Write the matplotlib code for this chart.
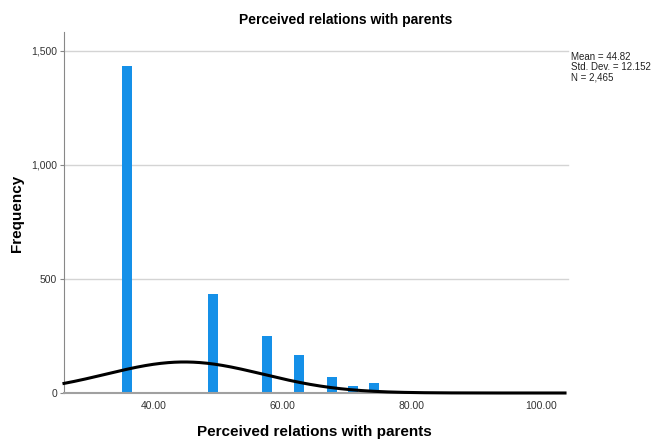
import numpy as np
import matplotlib.pyplot as plt

plt.rcParams['font.family'] = ['Liberation Sans', 'DejaVu Sans']

# --- data ---
bin_centers = [36.0, 37.7, 49.2, 52.5, 57.6, 62.6, 67.6, 70.9, 74.2, 79.3, 84.0, 94.0]
counts = [1434, 2, 434, 2, 251, 167, 71, 31, 45, 5, 3, 5]

mean_val = 44.82
std_val = 12.152
n_val = 2465
bin_width = 1.68

stats_lines = ["Mean = 44.82", "Std. Dev. = 12.152", "N = 2,465"]
y_ticks = [0, 500, 1000, 1500]
y_tick_labels = ["0", "500", "1,000", "1,500"]
x_ticks = [40, 60, 80, 100]
x_tick_labels = ["40.00", "60.00", "80.00", "100.00"]
title = "Perceived relations with parents"

fig = plt.figure(figsize=(6.53, 4.41), dpi=100)
ax = fig.add_axes([64 / 653, 1 - 393 / 441, (565 - 64) / 653, (393 - 32) / 441])

ax.bar(bin_centers, counts, width=1.55, color='#1590E8', zorder=2)

# normal curve from the reported statistics
xs = np.linspace(26.2, 103.7, 400)
ys = n_val * bin_width / (std_val * np.sqrt(2 * np.pi)) * np.exp(-0.5 * ((xs - mean_val) / std_val) ** 2)
ax.plot(xs, ys, color='black', linewidth=2.2, zorder=3, clip_on=False)

ax.set_xlim(26.2, 103.7)
ax.set_ylim(0, 1582)
ax.set_yticks(y_ticks)
ax.set_yticklabels(y_tick_labels)
ax.set_xticks(x_ticks)
ax.set_xticklabels(x_tick_labels)

for v in y_ticks[1:]:
    ax.axhline(v, color='#d4d4d4', linewidth=1, zorder=1, xmax=1.006, clip_on=False)

for side in ['top', 'right']:
    ax.spines[side].set_visible(False)
ax.spines['left'].set_color('#888888')
ax.spines['bottom'].set_color('#a0a0a0')
ax.spines['bottom'].set_linewidth(1.5)
ax.tick_params(axis='y', length=3, color='#888888', labelsize=7.5, labelcolor='#333333', pad=2)
ax.tick_params(axis='x', length=0, labelsize=7.5, labelcolor='#333333', pad=6)

ax.set_xlabel(title, fontsize=11, fontweight='bold', labelpad=10)
fig.text(17 / 653, 1 - 213 / 441, "Frequency", rotation=90, ha='center', va='center',
         fontsize=11, fontweight='bold')
fig.text(346 / 653, 1 - 20 / 441, title, ha='center', va='center', fontsize=10, fontweight='bold')

fig.text(571 / 653, 1 - 67 / 441, "\n".join(stats_lines), ha='left', va='center',
         fontsize=7, linespacing=1.0, color='#222222')

fig.savefig('out.png', dpi=100)
